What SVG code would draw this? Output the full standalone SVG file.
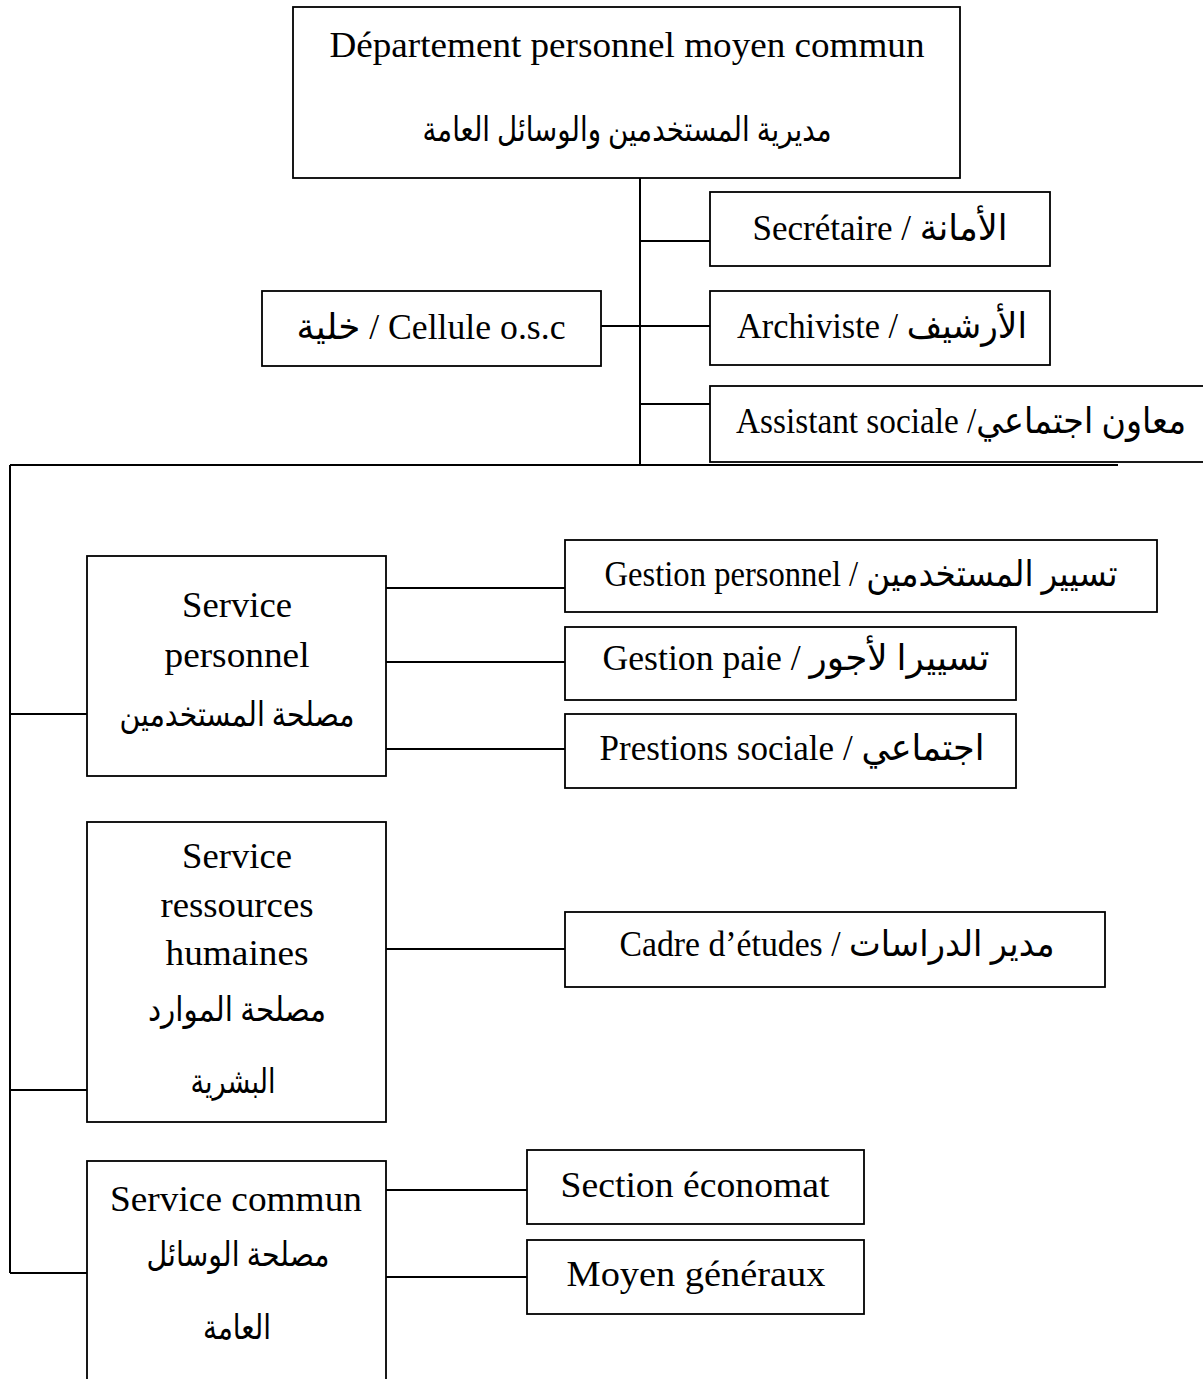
<svg xmlns="http://www.w3.org/2000/svg" width="1203" height="1379" viewBox="0 0 1203 1379">
  <style>
    .box { fill: #fff; stroke: #000; stroke-width: 1.8; }
    .wire { fill: none; stroke: #000; stroke-width: 2; }
    text { font-family: "Liberation Serif", "DejaVu Sans", serif; font-size: 36px; fill: #000; text-anchor: middle; direction: ltr; }
    text.ar { font-size: 34px; }
  </style>
  <rect width="1203" height="1379" fill="#fff"/>

  <!-- connectors -->
  <g id="connectors" class="wire">
    <line x1="640" y1="178" x2="640" y2="465"/>
    <line x1="640" y1="241" x2="710" y2="241"/>
    <line x1="601" y1="326" x2="710" y2="326"/>
    <line x1="640" y1="404" x2="710" y2="404"/>
    <line x1="10" y1="465" x2="1118" y2="465"/>
    <line x1="10" y1="465" x2="10" y2="1273"/>
    <line x1="10" y1="714" x2="87" y2="714"/>
    <line x1="10" y1="1090" x2="87" y2="1090"/>
    <line x1="10" y1="1273" x2="87" y2="1273"/>
    <line x1="386" y1="588" x2="565" y2="588"/>
    <line x1="386" y1="662" x2="565" y2="662"/>
    <line x1="386" y1="749" x2="565" y2="749"/>
    <line x1="386" y1="949" x2="565" y2="949"/>
    <line x1="386" y1="1190" x2="527" y2="1190"/>
    <line x1="386" y1="1277" x2="527" y2="1277"/>
  </g>

  <g id="departement">
    <rect class="box" x="293" y="7" width="667" height="171"/>
    <text x="627" y="57" textLength="595" lengthAdjust="spacingAndGlyphs">Département personnel moyen commun</text>
    <text class="ar" x="627" y="141" textLength="409" lengthAdjust="spacingAndGlyphs">مديرية المستخدمين والوسائل العامة</text>
  </g>

  <g id="secretaire">
    <rect class="box" x="710" y="192" width="340" height="74"/>
    <text x="880" y="240" textLength="255" lengthAdjust="spacingAndGlyphs">Secrétaire / الأمانة</text>
  </g>

  <g id="archiviste">
    <rect class="box" x="710" y="291" width="340" height="74"/>
    <text x="882" y="338" textLength="290" lengthAdjust="spacingAndGlyphs">Archiviste / الأرشيف</text>
  </g>

  <g id="assistant">
    <rect class="box" x="710" y="386" width="500" height="76"/>
    <text x="961" y="433" textLength="450" lengthAdjust="spacingAndGlyphs">Assistant sociale /معاون اجتماعي</text>
  </g>

  <g id="cellule">
    <rect class="box" x="262" y="291" width="339" height="75"/>
    <text x="431" y="339" textLength="269" lengthAdjust="spacingAndGlyphs">خلية / Cellule o.s.c</text>
  </g>

  <g id="service-personnel">
    <rect class="box" x="87" y="556" width="299" height="220"/>
    <text x="237" y="617" textLength="110" lengthAdjust="spacingAndGlyphs">Service</text>
    <text x="237" y="667" textLength="145" lengthAdjust="spacingAndGlyphs">personnel</text>
    <text class="ar" x="237" y="726" textLength="235" lengthAdjust="spacingAndGlyphs">مصلحة المستخدمين</text>
  </g>

  <g id="gestion-personnel">
    <rect class="box" x="565" y="540" width="592" height="72"/>
    <text x="861" y="586" textLength="513" lengthAdjust="spacingAndGlyphs">Gestion personnel / تسيير المستخدمين</text>
  </g>

  <g id="gestion-paie">
    <rect class="box" x="565" y="627" width="451" height="73"/>
    <text x="796" y="670" textLength="387" lengthAdjust="spacingAndGlyphs">Gestion paie / تسييرا لأجور</text>
  </g>

  <g id="prestations">
    <rect class="box" x="565" y="714" width="451" height="74"/>
    <text x="792" y="760" textLength="385" lengthAdjust="spacingAndGlyphs">Prestions sociale / اجتماعي</text>
  </g>

  <g id="service-rh">
    <rect class="box" x="87" y="822" width="299" height="300"/>
    <text x="237" y="868" textLength="110" lengthAdjust="spacingAndGlyphs">Service</text>
    <text x="237" y="917" textLength="153" lengthAdjust="spacingAndGlyphs">ressources</text>
    <text x="237" y="965" textLength="143" lengthAdjust="spacingAndGlyphs">humaines</text>
    <text class="ar" x="237" y="1021" textLength="178" lengthAdjust="spacingAndGlyphs">مصلحة الموارد</text>
    <text class="ar" x="233" y="1093" textLength="85" lengthAdjust="spacingAndGlyphs">البشرية</text>
  </g>

  <g id="cadre-etudes">
    <rect class="box" x="565" y="912" width="540" height="75"/>
    <text x="837" y="956" textLength="435" lengthAdjust="spacingAndGlyphs">Cadre d’études / مدير الدراسات</text>
  </g>

  <g id="service-commun">
    <rect class="box" x="87" y="1161" width="299" height="240"/>
    <text x="236" y="1211" textLength="252" lengthAdjust="spacingAndGlyphs">Service commun</text>
    <text class="ar" x="238" y="1266" textLength="183" lengthAdjust="spacingAndGlyphs">مصلحة الوسائل</text>
    <text class="ar" x="237" y="1339" textLength="68" lengthAdjust="spacingAndGlyphs">العامة</text>
  </g>

  <g id="economat">
    <rect class="box" x="527" y="1150" width="337" height="74"/>
    <text x="695" y="1197" textLength="269" lengthAdjust="spacingAndGlyphs">Section économat</text>
  </g>

  <g id="moyens-generaux">
    <rect class="box" x="527" y="1240" width="337" height="74"/>
    <text x="696" y="1286" textLength="259" lengthAdjust="spacingAndGlyphs">Moyen généraux</text>
  </g>
</svg>
